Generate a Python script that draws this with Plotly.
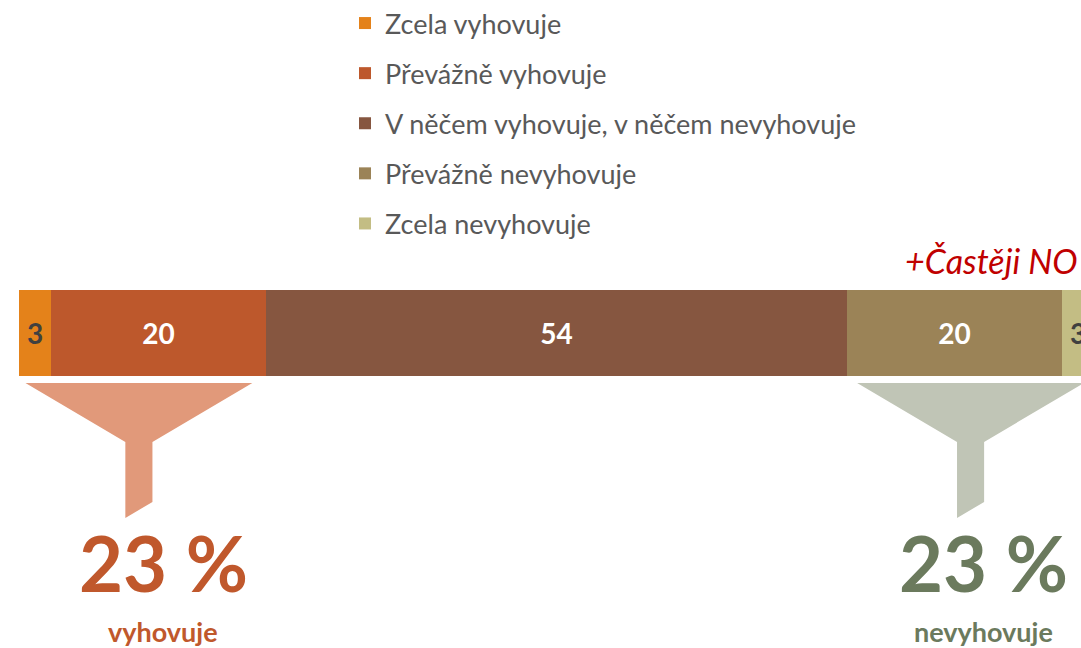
import plotly.graph_objects as go

# ---- data ----
categories = ["Zcela vyhovuje", "Převážně vyhovuje", "V něčem vyhovuje, v něčem nevyhovuje",
              "Převážně nevyhovuje", "Zcela nevyhovuje"]
values = [3, 20, 54, 20, 3]
colors = ["#E4821A", "#BD582C", "#865640", "#9B8357", "#C3BD84"]
label_colors = ["#404040", "#FFFFFF", "#FFFFFF", "#FFFFFF", "#404040"]
summary_values = [23, 23]
summary_labels = ["vyhovuje", "nevyhovuje"]
summary_colors = ["#C0582C", "#6B7A5D"]
funnel_colors = ["#E1997A", "#C0C5B6"]
note_text = "+Častěji NO"

FONT = "Lato, 'Open Sans', sans-serif"

W, H = 1081, 648

fig = go.Figure()
for cat, v, c, lc in zip(categories, values, colors, label_colors):
    fig.add_trace(go.Bar(
        y=[0], x=[v], orientation="h", name=cat,
        marker=dict(color=c, line=dict(width=0)),
        text=[str(v)], textposition="inside", insidetextanchor="middle",
        textfont=dict(family=FONT, size=28, color=lc, weight="bold"),
        legendgroup=cat, hoverinfo="skip", width=1,
    ))

# cumulative boundaries
cum = [0]
for v in values:
    cum.append(cum[-1] + v)

groups = [(cum[0], cum[2]), (cum[3], cum[5])]
insets = [(0.6, 1.3), (0.95, 0.95)]
y_top, y_neck, y_bot_long, y_bot_short = -0.581, -1.267, -2.151, -1.965
neck_half = 1.26

shapes = []
annotations = []
for (a, b), (il, ir), fc, sv, sl, sc, off in zip(groups, insets, funnel_colors, summary_values,
                                                  summary_labels, summary_colors, [1.9, 1.2]):
    left, right = a + il, b - ir
    mid = (left + right) / 2
    path = (f"M{left},{y_top} L{right},{y_top} L{mid + neck_half},{y_neck} "
            f"L{mid + neck_half},{y_bot_short} L{mid - neck_half},{y_bot_long} "
            f"L{mid - neck_half},{y_neck} Z")
    shapes.append(dict(type="path", path=path, xref="x", yref="y",
                       fillcolor=fc, line=dict(width=0), layer="below"))
    cx = (a + b) / 2 + off
    annotations.append(dict(x=cx, y=-2.674, xref="x", yref="y", text=f"{sv} %",
                            showarrow=False, font=dict(family=FONT, size=76, color=sc, weight="bold"),
                            xanchor="center", yanchor="middle"))
    annotations.append(dict(x=cx, y=-3.475, xref="x", yref="y", text=sl,
                            showarrow=False, font=dict(family=FONT, size=27, color=sc, weight="bold"),
                            xanchor="center", yanchor="middle"))

annotations.append(dict(x=cum[3] + 5.2, y=0.84, xref="x", yref="y", text=f"<i>{note_text}</i>",
                        showarrow=False, font=dict(family=FONT, size=34, color="#C00000"),
                        xanchor="left", yanchor="middle"))

fig.update_layout(
    width=W, height=H,
    margin=dict(l=19, r=0, t=0, b=0, autoexpand=False),
    barmode="stack", bargap=0,
    plot_bgcolor="white", paper_bgcolor="white",
    xaxis=dict(range=[0, 98.77], visible=False, fixedrange=True),
    yaxis=dict(range=[-3.663, 3.872], visible=False, fixedrange=True),
    showlegend=True,
    legend=dict(x=(345 - 19) / 1062, y=1 + 1 / H, xanchor="left", yanchor="top",
                traceorder="grouped", tracegroupgap=12, itemwidth=30,
                font=dict(family=FONT, size=27, color="#595959"),
                bgcolor="rgba(0,0,0,0)"),
    shapes=shapes,
    annotations=annotations,
)

# remove the default page margin and scrollbars so the figure fills the window exactly
page_css = ("document.body.style.margin='0';document.body.style.padding='0';"
            "document.documentElement.style.overflow='hidden';document.body.style.overflow='hidden';")

fig.write_html("out.html", post_script=page_css, config={"displayModeBar": False})
